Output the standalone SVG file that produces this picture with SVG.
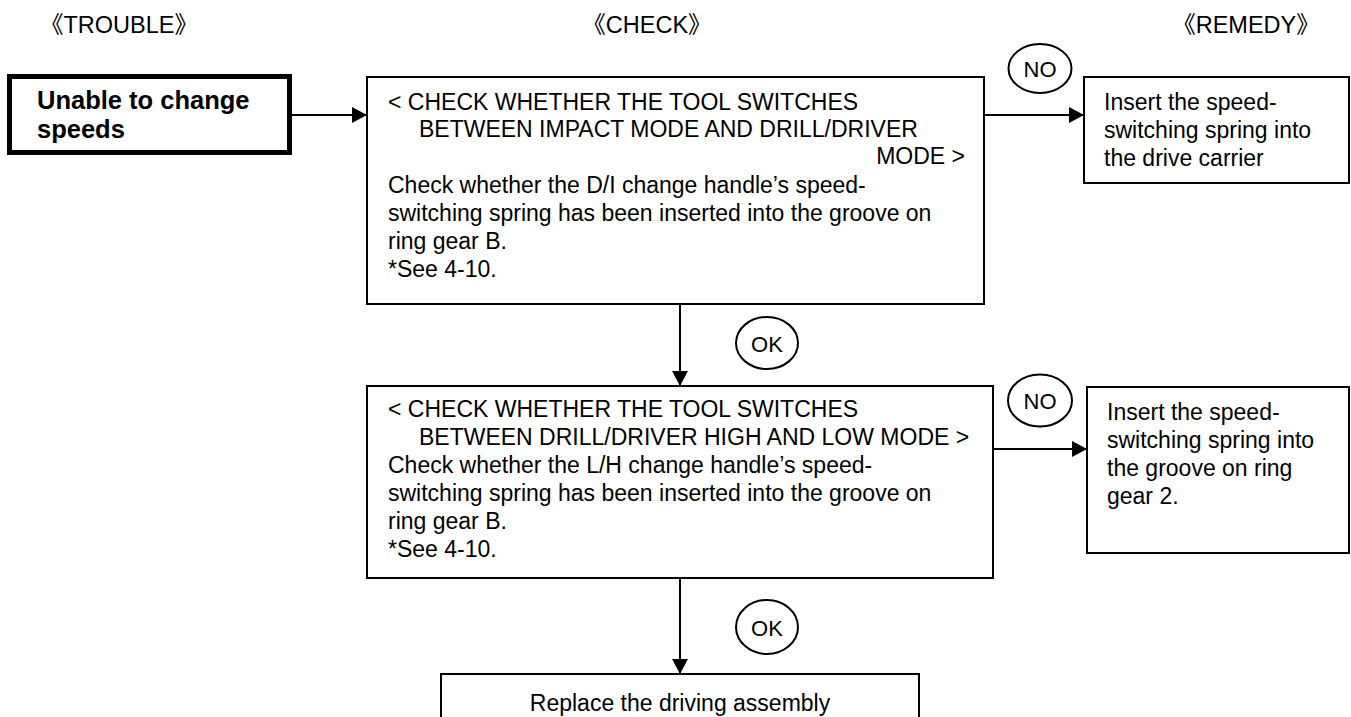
<svg xmlns="http://www.w3.org/2000/svg" width="1351" height="717" viewBox="0 0 1351 717">
<style>
text{font-family:"Liberation Sans",Arial,"Noto Sans CJK JP",sans-serif;fill:#000}
.t{font-size:23px}
.h{font-size:23.5px}
.b{font-size:25.5px;font-weight:bold}
.box{fill:#fff;stroke:#000;stroke-width:2}
.thick{fill:#fff;stroke:#000;stroke-width:5}
.ell{fill:#fff;stroke:#000;stroke-width:2}
.lab{font-size:22px;text-anchor:middle}
.c{stroke:#000;stroke-width:2;fill:none}
</style>
<defs>
<marker id="ah" viewBox="0 0 15 16" refX="15" refY="8" markerWidth="15" markerHeight="16" markerUnits="userSpaceOnUse" orient="auto">
<path d="M0,0 L15,8 L0,16 Z" fill="#000"/>
</marker>
</defs>
<rect width="1351" height="717" fill="#fff"/>
<g id="headers">
<text class="h" x="40" y="33">《TROUBLE》</text>
<text class="h" x="647" y="33" text-anchor="middle">《CHECK》</text>
<text class="h" x="1246" y="33" text-anchor="middle">《REMEDY》</text>
</g>
<g id="connectors">
<line class="c" x1="290" y1="115" x2="367" y2="115" marker-end="url(#ah)"/>
<line class="c" x1="984" y1="115" x2="1084" y2="115" marker-end="url(#ah)"/>
<line class="c" x1="680" y1="304" x2="680" y2="386" marker-end="url(#ah)"/>
<line class="c" x1="993" y1="449" x2="1087" y2="449" marker-end="url(#ah)"/>
<line class="c" x1="680" y1="578" x2="680" y2="674" marker-end="url(#ah)"/>
</g>
<g id="trouble">
<rect class="thick" x="9.5" y="76.5" width="280" height="76"/>
<text class="b" x="37" y="109">Unable to change</text>
<text class="b" x="37" y="138">speeds</text>
</g>
<g id="check1">
<rect class="box" x="367" y="77" width="617" height="227"/>
<text class="t" x="388" y="110">&lt; CHECK WHETHER THE TOOL SWITCHES</text>
<text class="t" x="419" y="137">BETWEEN IMPACT MODE AND DRILL/DRIVER</text>
<text class="t" x="965" y="164" text-anchor="end">MODE &gt;</text>
<text class="t" x="388" y="193">Check whether the D/I change handle’s speed-</text>
<text class="t" x="388" y="221">switching spring has been inserted into the groove on</text>
<text class="t" x="388" y="249">ring gear B.</text>
<text class="t" x="388" y="277">*See 4-10.</text>
</g>
<g id="no1">
<ellipse class="ell" cx="1040" cy="68.5" rx="31.5" ry="24.5"/>
<text class="lab" x="1040" y="76.5">NO</text>
</g>
<g id="remedy1">
<rect class="box" x="1084" y="77" width="265" height="106"/>
<text class="t" x="1104" y="110">Insert the speed-</text>
<text class="t" x="1104" y="138">switching spring into</text>
<text class="t" x="1104" y="166">the drive carrier</text>
</g>
<g id="ok1">
<ellipse class="ell" cx="767" cy="343" rx="31" ry="26"/>
<text class="lab" x="767" y="351.5">OK</text>
</g>
<g id="check2">
<rect class="box" x="367" y="386" width="626" height="192"/>
<text class="t" x="388" y="417">&lt; CHECK WHETHER THE TOOL SWITCHES</text>
<text class="t" x="419" y="445">BETWEEN DRILL/DRIVER HIGH AND LOW MODE &gt;</text>
<text class="t" x="388" y="473">Check whether the L/H change handle’s speed-</text>
<text class="t" x="388" y="501">switching spring has been inserted into the groove on</text>
<text class="t" x="388" y="529">ring gear B.</text>
<text class="t" x="388" y="557">*See 4-10.</text>
</g>
<g id="no2">
<ellipse class="ell" cx="1040" cy="400.5" rx="32" ry="26"/>
<text class="lab" x="1040" y="408.5">NO</text>
</g>
<g id="remedy2">
<rect class="box" x="1087" y="387" width="262" height="166"/>
<text class="t" x="1107" y="420">Insert the speed-</text>
<text class="t" x="1107" y="448">switching spring into</text>
<text class="t" x="1107" y="476">the groove on ring</text>
<text class="t" x="1107" y="504">gear 2.</text>
</g>
<g id="ok2">
<ellipse class="ell" cx="767" cy="627" rx="31" ry="27"/>
<text class="lab" x="767" y="635.5">OK</text>
</g>
<g id="result">
<path class="box" d="M441,718 V674 H919 V718"/>
<text class="t" x="680" y="711" text-anchor="middle">Replace the driving assembly</text>
</g>
</svg>
